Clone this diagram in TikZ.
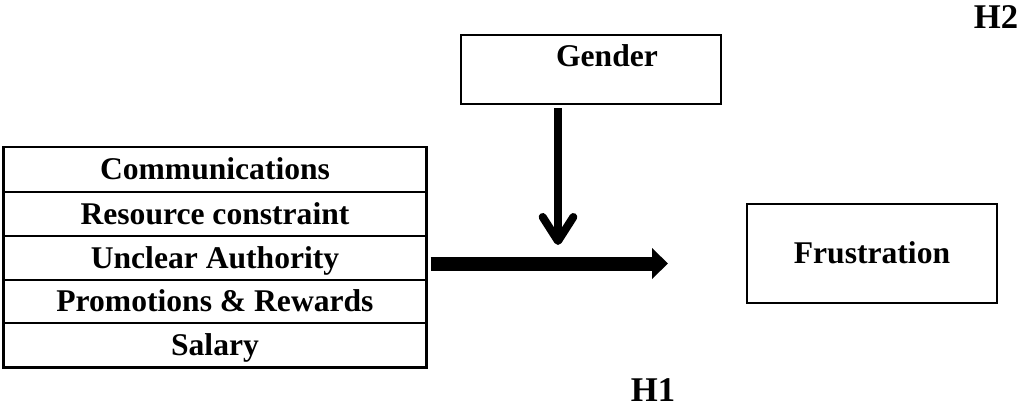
\documentclass[tikz,border=0pt]{standalone}
\usepackage{fontspec}
\setmainfont{Liberation Serif}
\usetikzlibrary{arrows.meta}

\tikzset{
	txt/.style={font=\fontsize{23.7}{28}\selectfont\bfseries, inner sep=0pt, text height=15.6pt, text depth=0pt},
	rowbox/.style={txt, draw, line width=1pt, minimum width=316.5pt, minimum height=33pt},
	varbox/.style={draw, line width=1.5pt},
	hyp/.style={txt, font=\fontsize{26}{30}\selectfont\bfseries, text height=17.2pt},
	modarrow/.style={line width=6pt, -{Straight Barb[length=18pt,width=23pt,round]}},
	effarrow/.style={line width=10.5pt, -{Triangle[length=12pt,width=22.5pt]}}}
\tikzset{every picture/.style={line width=0.75pt}}

\begin{document}
\begin{tikzpicture}[x=0.75pt,y=0.75pt,yscale=-1,xscale=1]
	%set diagram size to the reference
	\path (0,0) rectangle (1020,407);

	%Shape: Table of stressors
	\node [rowbox] (comm) at (215,169.5) {Communications};
	\node [rowbox] (res) at (215,214) {Resource constraint};
	\node [rowbox] (auth) at (215,258) {Unclear Authority};
	\node [rowbox] (prom) at (215,301.5) {Promotions \& Rewards};
	\node [rowbox] (sal) at (215,345) {Salary};
	\draw [varbox] (comm.north west) rectangle (sal.south east);

	%Shape: Rectangle (moderator)
	\node [varbox, minimum width=195pt, minimum height=51.75pt] (gender) at (591,69.5) {};
	% Text Node
	\node [txt] (genderlbl) at (607,56) {Gender};

	%Shape: Rectangle (outcome)
	\node [varbox, txt, minimum width=187.5pt, minimum height=74.25pt] (frus) at (872,253) {Frustration};

	%Straight Lines
	\coordinate (join) at (558,245);
	\coordinate (effend) at (668,263.5);
	\draw [modarrow] (gender.south -| join) ++(0,3) -- (join);
	\draw [effarrow] (auth.east |- effend) ++(4,0) -- (effend);

	% Text Node
	\node [hyp] (h2) at (996,17) {H2};
	% Text Node
	\node [hyp] (h1) at (653,390) {H1};

\end{tikzpicture}
\end{document}
